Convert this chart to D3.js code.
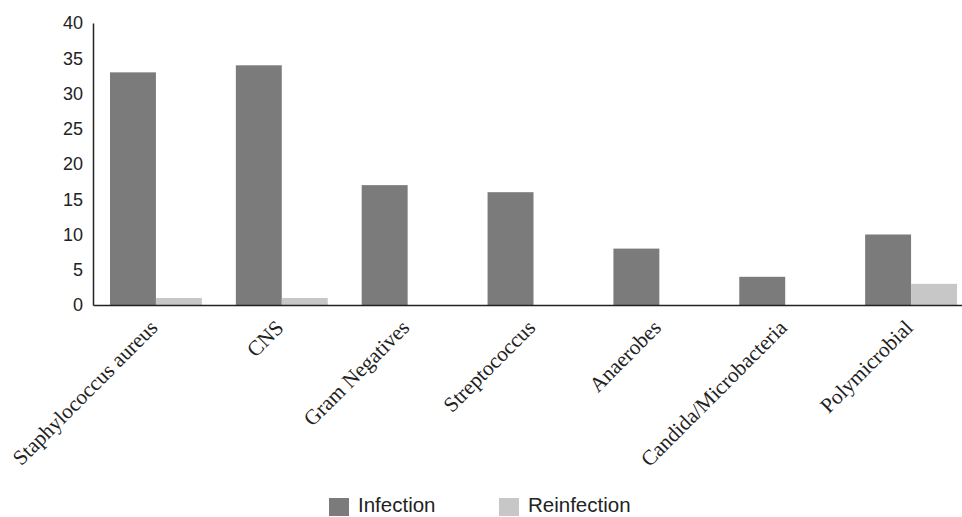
<!DOCTYPE html>
<html><head><meta charset="utf-8">
<script src="https://cdn.jsdelivr.net/npm/d3@7"></script>
<style>body{margin:0;background:#fff}svg{display:block}</style>
</head><body>
<svg id="c" width="962" height="517"></svg>
<script>
const categories = ["Staphylococcus aureus","CNS","Gram Negatives","Streptococcus","Anaerobes","Candida/Microbacteria","Polymicrobial"];
const seriesNames = ["Infection","Reinfection"];
const infection = [33,34,17,16,8,4,10];
const reinfection = [1,1,0,0,0,0,3];
const yTicks = [0,5,10,15,20,25,30,35,40];
const colors = ["#7b7b7b","#c6c7c6"];

const svg = d3.select("#c");
const x0 = d3.scaleBand().domain(categories).range([93,974]).paddingInner(0.27).paddingOuter(0.135);
const x1 = d3.scaleBand().domain(seriesNames).range([0,x0.bandwidth()]);
const y = d3.scaleLinear().domain([0,40]).range([305,23]);

const data = categories.map((c,i)=>({cat:c, vals:[infection[i],reinfection[i]]}));

const g = svg.append("g");
g.selectAll("g.grp").data(data).join("g").attr("class","grp")
 .attr("transform",d=>`translate(${x0(d.cat)},0)`)
 .selectAll("rect").data(d=>d.vals.map((v,j)=>({v,j}))).join("rect")
 .attr("x",d=>x1(seriesNames[d.j]))
 .attr("width",x1.bandwidth())
 .attr("y",d=>y(d.v))
 .attr("height",d=>y(0)-y(d.v))
 .attr("fill",d=>colors[d.j]);

// Y axis
const yAxis = svg.append("g").attr("transform","translate(93,0)")
 .call(d3.axisLeft(y).tickValues(yTicks).tickSize(0).tickPadding(10).tickSizeOuter(0));
yAxis.select(".domain").attr("stroke","#222").attr("stroke-width",1.5);
yAxis.selectAll("text").attr("font-family","Liberation Sans, Arial, sans-serif").attr("font-size",18).attr("fill","#222");

// X axis
const xAxis = svg.append("g").attr("transform","translate(0,305)")
 .call(d3.axisBottom(x0).tickSize(0).tickSizeOuter(0).tickFormat(""));
xAxis.select(".domain").attr("stroke","#222").attr("stroke-width",1.5);

svg.append("g").selectAll("text").data(categories).join("text")
 .attr("transform",d=>`translate(${x0(d)+x0.bandwidth()/2+3},329) rotate(-45)`)
 .attr("text-anchor","end")
 .attr("font-family","Liberation Serif, Times New Roman, serif")
 .attr("font-size",21.3).attr("fill","#222")
 .text(d=>d);

// Legend
const legX = [329,499];
const leg = svg.append("g").selectAll("g").data(seriesNames).join("g")
 .attr("transform",(d,i)=>`translate(${legX[i]},498)`);
leg.append("rect").attr("width",20).attr("height",18).attr("fill",(d,i)=>colors[i]);
leg.append("text").attr("x",29).attr("y",14)
 .attr("font-family","Liberation Sans, Arial, sans-serif").attr("font-size",20.5).attr("fill","#222")
 .text(d=>d);
</script>
</body></html>
